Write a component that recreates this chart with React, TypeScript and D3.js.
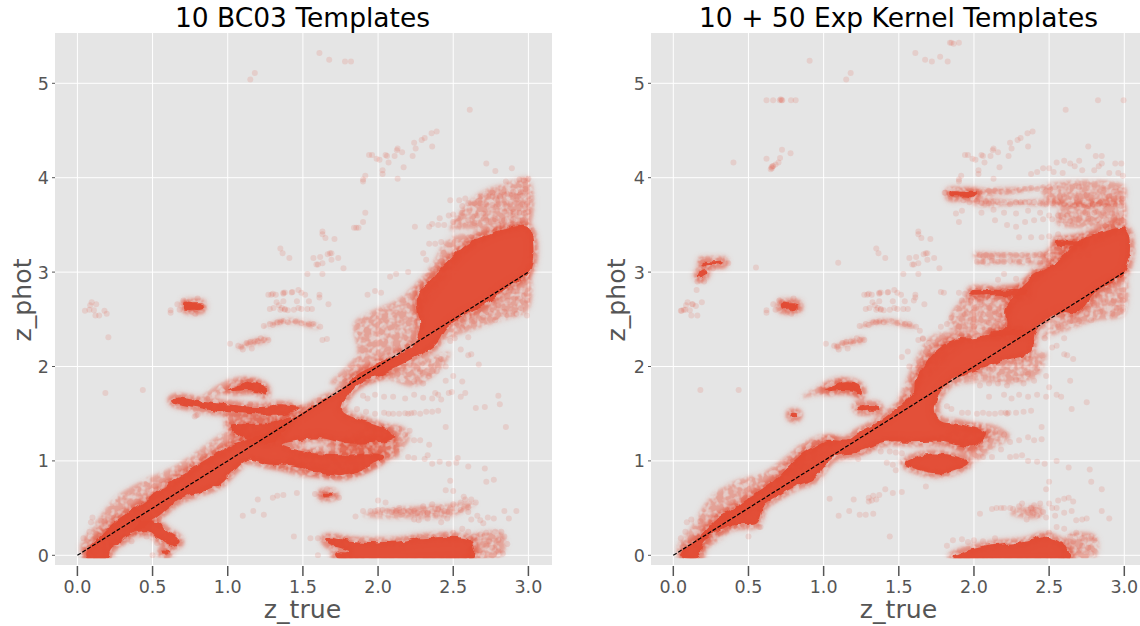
// App.tsx
import * as d3 from "d3";

type Pt = [number, number];

const xTicks = [0, 0.5, 1, 1.5, 2, 2.5, 3];
const yTicks = [0, 1, 2, 3, 4, 5];
const titles = ["10 BC03 Templates", "10 + 50 Exp Kernel Templates"];

// outliers seen in both panels
const sharedPoints: Pt[] = [
  [.05,2.59],[.08,2.6],[.11,2.595],[.085,2.65],[.095,2.68],[.125,2.66],[.12,2.54],[.62,2.595],[.62,2.57],[.665,2.66],[.68,2.6],[.705,2.7],[.725,2.68],[.8,2.72],[.76,2.63],[.77,2.62],[.8,2.63],[.815,2.63],[.825,2.63],[.76,2.58],[.785,2.56],[.74,2.66],[.765,2.67],[.75,2.62],[.78,2.65],[.79,2.61],[.73,2.64],
  [.435,1.75],[1.15,5.04],[1.18,5.11],[1.61,5.32],[1.675,5.25],[2.61,4.72],
  [2.39,4.49],[2.356,4.47],[2.31,4.42],[2.29,4.4],[2.24,4.37],[2.25,4.31],[2.36,4.33],[2.13,4.31],[2.125,4.29],[2.16,4.27],[2.11,4.23],[2.05,4.24],[2.06,4.23],[2.01,4.19],[1.99,4.2],[1.96,4.24],[1.94,4.24],[2.07,4.16],[2.23,4.23],[2.17,4.11],[2.03,4.08],[2.03,4.04],[2.13,3.99],[1.9,3.98],[1.9,3.96],[1.915,4.02],
  [1.63,3.43],[1.63,3.4],[1.65,3.36],[1.71,3.35],[1.68,3.2],[1.665,3.19],[1.69,3.2],[1.735,3.15],[1.69,3.13],[1.63,3.095],[1.6,3.08],[1.59,3.08],[1.57,3.15],[1.615,3.16],[1.77,3.04],[1.63,2.98],[1.53,2.98],[1.35,3.25],[1.365,3.2],[1.41,3.15],[1.61,2.76],[1.61,2.73],[1.67,2.66],
  [1.29,2.76],[1.32,2.76],[1.37,2.78],[1.38,2.785],[1.43,2.79],[1.47,2.81],[1.49,2.78],[1.515,2.76],[1.54,2.69],[1.34,2.65],[1.36,2.62],[1.38,2.6],[1.4,2.595],[1.46,2.69],[1.47,2.62],[1.49,2.61],[1.53,2.61],[1.56,2.61],[1.305,2.62],[1.37,2.69],[1.27,2.76],[1.3,2.77],[1.37,2.77],[1.425,2.785],[1.325,2.68],[1.28,2.61],[1.35,2.6],[1.38,2.61],[1.44,2.6],
  [1.015,2.24],[1.07,2.22],[1.09,2.21],[1.125,2.25],[1.15,2.26],[1.18,2.265],[1.2,2.27],[1.24,2.28],[1.27,2.28],[1.1,2.18],[1.16,2.19],[1.22,2.3],[1.24,2.43],[1.28,2.45],[1.3,2.44],[1.33,2.47],[1.35,2.47],[1.37,2.48],[1.4,2.47],[1.45,2.48],[1.49,2.46],[1.54,2.45],[1.57,2.45],[1.615,2.42],[1.63,2.28],[1.66,2.29],
  [1.2,.59],[1.17,.47],[1.24,.43],[1.3,.61],[1.33,.63],[1.37,.64],[1.46,.66],[1.1,.42],[1.44,.2],
];

const leftPoints: Pt[] = [
  [.18,2.59],[.195,2.56],[.145,2.54],[.206,2.31],[.186,1.72],[1.78,5.23],[1.82,5.23],[1.915,3.63],[1.9,3.53],[1.84,3.47],[1.855,3.47],[1.87,3.47],[2.245,3.48],
  // scatter above the top right wedge
  [2.72,4.15],[2.78,4.07],[2.89,4.1],[2.85,3.96],[2.94,3.98],[2.97,3.97],[3,3.99],[2.76,3.84],[2.81,3.8],[2.9,3.85],[2.95,3.85],[2.98,3.88],[2.93,3.8],[2.86,3.83],
  [2.41,3.57],[2.47,3.6],[2.5,3.61],[2.53,3.57],[2.56,3.7],[2.54,3.76],[2.48,3.76],[2.58,3.78],[2.6,3.73],[2.64,3.73],[2.68,3.73],[2.72,3.72],[2.76,3.71],[2.8,3.72],[2.84,3.72],[2.88,3.72],[2.92,3.73],[2.96,3.72],[2.99,3.72],
  [2.68,3.8],[2.72,3.81],[2.76,3.8],[2.8,3.81],[2.84,3.82],[2.88,3.82],[2.92,3.8],[2.96,3.81],[3,3.8],[2.94,3.63],[2.97,3.63],[3,3.64],[2.84,3.64],[2.88,3.63],[2.9,3.64],
  [2.66,3.6],[2.7,3.62],[2.56,3.63],[2.6,3.55],[2.64,3.52],[2.5,3.53],[2.44,3.5],[2.4,3.5],[2.36,3.51],[2.34,3.48],[2.72,3.55],[2.78,3.56],[2.84,3.55],[2.9,3.56],[2.96,3.55],[2.88,3.5],[2.8,3.5],
  [2.3,3.2],[2.34,3.3],[2.38,3.3],[2.32,3.13],[2.42,3.32],[2.2,3.0],[2.12,2.98],[2.08,2.95],[2.02,2.78],[1.98,2.8],[1.93,2.76],
  // below the diagonal, top right
  [2.9,2.8],[2.93,2.72],[2.97,2.75],[2.99,2.7],[2.95,2.62],[2.86,2.7],[2.8,2.65],[2.84,2.58],[2.92,2.56],[2.99,2.54],[2.75,2.56],[2.7,2.52],[2.78,2.49],[2.64,2.48],[2.56,2.41],[2.6,2.31],[2.51,2.3],[2.48,2.27],[2.55,2.18],[2.62,2.13],[2.6,2.12],[2.67,2.02],
  [2.42,2.08],[2.45,2],[2.5,1.9],[2.45,1.85],[2.39,1.95],[2.34,1.9],[2.28,1.95],[2.3,1.82],[2.24,1.84],[2.56,1.84],[2.58,1.72],[2.49,1.73],[2.38,1.72],[2.36,1.66],[2.4,1.7],[2.3,1.67],[2.42,1.65],[2.47,1.72],[2.55,1.68],[2.8,1.69],[2.81,1.6],[2.71,1.57],[2.65,1.56],[2.85,1.36],
  [1.9,1.69],[1.93,1.66],[1.98,1.7],[2.04,1.68],[2.1,1.68],[2.18,1.66],[2.24,1.7],[1.86,1.55],[1.92,1.52],[1.98,1.5],[2.04,1.51],[2.07,1.5],[2.1,1.5],[2.14,1.5],[2.18,1.505],[2.2,1.5],[2.22,1.505],[2.24,1.51],[2.28,1.5],[2.32,1.52],[2.36,1.52],[2.4,1.53],[2.45,1.36],
  [2.14,1.34],[2.18,1.28],[2.21,1.32],[2.24,1.22],[2.28,1.22],[2.34,1.17],[2.2,1.04],[2.24,1.03],[2.31,1.02],[2.33,1.06],[2.36,.97],[2.41,.99],[2.47,.97],[2.52,.98],[2.53,1.03],[2.6,.94],[2.71,.92],[2.77,.8],[2.72,.78],[2.48,.79],[2.45,.69],
  // the lump at z_phot near 0.45
  [1.9,.47],[1.95,.47],[1.98,.47],[2,.48],[2.03,.48],[2.06,.47],[2.09,.46],[2.1,.48],[2.12,.47],[2.14,.48],[2.15,.46],[2.17,.47],[2.14,.5],[2.2,.47],[2.22,.46],[2.24,.47],[2.26,.45],[2.28,.44],[2.3,.45],[2.3,.52],[2.33,.45],[2.36,.47],[2.36,.54],[2.38,.49],[2.4,.49],[2.42,.51],[2.44,.47],[2.46,.46],[2.38,.42],[2.33,.39],[2.24,.38],[2.27,.37],[2.46,.39],[2.42,.35],[2.5,.54],[2.55,.56],[2.58,.59],[2.6,.51],[2.62,.59],[2.65,.56],[2.55,.48],[2.6,.46],[2.66,.42],[2.7,.34],[2.73,.4],[2.77,.39],[2.62,.38],[2.68,.37],[2.84,.47],[2.87,.39],[2.92,.47],[1.85,.41],[2,.58],[2.05,.56],[2.5,.68],[2.57,.62],
  // the small clump at z_phot near 0.65
  [1.58,.65],[1.62,.65],[1.64,.64],[1.65,.64],[1.66,.64],[1.67,.64],[1.68,.64],[1.7,.63],[1.74,.61],[1.66,.7],
  // bottom band fade
  [2.64,.2],[2.68,.22],[2.72,.24],[2.78,.25],[2.82,.25],[2.84,.2],[2.86,.12],[2.8,.16],[2.76,.08],[2.72,.1],[2.8,.04],[2.7,.02],[2.83,.02],[2.6,.25],[2.56,.28],[2.5,.24],[2.45,.22],[2.66,.16],[2.74,.15],[1.6,.18],[1.55,.18],[1.6,.0],[1.67,.2],
  // small bits
  [.58,.02],[.6,.03],[.585,.04],[.5,-.0],[.53,.13],[.36,.15],[.18,.36],[.09,.35],[.1,.4],[.08,.25],[.04,.18],[.2,.19],[.5,.22],[.46,.2],[1.15,1.6],[.8,1.49],[.79,1.48],[.78,1.47],
];

const rightPoints: Pt[] = [
  [.907,5.24],[.62,4.82],[.664,4.82],[.708,4.82],[.72,4.82],[.725,4.82],[.715,4.83],[.783,4.82],[.814,4.82],[.4,4.16],[.62,4.2],[.723,4.295],[.78,4.26],[.71,4.21],[.7,4.16],[.68,4.14],[.665,4.125],[.653,4.11],[.648,4.09],[.656,4.1],[.66,4.12],[.55,3.05],[1.097,3.1],[.365,3.095],[.265,3.04],
  [.205,2.9],[.16,2.9],[.18,2.91],[.155,2.81],[.19,2.68],[.15,2.64],[.055,2.59],[.16,2.54],[.13,2.66],[.07,2.6],
  [1.84,5.43],[1.85,5.43],[1.865,5.42],[1.9,5.43],[1.72,5.23],[1.775,5.28],[1.825,5.23],[2.825,4.82],[2.995,4.82],[.18,1.75],
  // upper scatter of the kernel run
  [2.76,4.33],[2.81,4.23],[2.85,4.23],[2.85,4.15],[2.83,4.12],[2.94,4.15],[2.98,4.15],[2.55,4.16],[2.6,4.18],[2.64,4.15],[2.7,4.18],[2.67,4.12],[2.5,4.1],[2.53,4.06],[2.46,4.1],[2.38,4.04],[2.42,4.06],[2.59,4.05],[2.72,4.08],[2.8,4.08],[2.9,4.05],[2.96,4.05],[2.99,4.02],
  [1.805,3.84],[1.81,3.84],[1.84,3.83],[1.86,3.83],[1.88,3.825],[1.9,3.83],[1.92,3.82],[1.94,3.82],[1.96,3.81],[1.98,3.82],[2.02,3.83],[2.06,3.85],[2.1,3.86],[2.14,3.86],[2.18,3.85],[2.22,3.85],[2.26,3.85],[2.3,3.87],[2.34,3.88],[2.38,3.89],[2.42,3.88],[2.46,3.9],[2.5,3.9],[2.54,3.9],[2.7,3.9],[2.86,3.89],[2.93,3.85],[2.97,3.87],
  [1.93,3.76],[1.97,3.74],[2.02,3.75],[2.05,3.73],[2.08,3.75],[2.1,3.73],[2.13,3.75],[2.16,3.74],[2.2,3.74],[2.24,3.72],[2.28,3.74],[2.31,3.74],[2.34,3.74],[2.37,3.74],[2.4,3.74],[2.44,3.73],[2.48,3.72],[2.52,3.73],[2.56,3.74],[2.6,3.72],[2.64,3.72],[2.67,3.71],[2.7,3.72],[2.73,3.71],[2.76,3.7],[2.79,3.72],[2.83,3.72],[2.87,3.72],[2.9,3.73],[2.94,3.72],[2.98,3.7],
  [2.6,3.8],[2.68,3.79],[2.75,3.82],[2.82,3.8],[2.9,3.8],[2.96,3.8],[2.99,3.78],[2.05,3.63],[2.13,3.66],[2.2,3.63],[2.28,3.62],[2.36,3.65],[2.44,3.63],[2.5,3.6],[2.56,3.6],[2.62,3.6],[2.68,3.6],[2.74,3.63],[2.8,3.63],[2.86,3.63],[2.92,3.62],[2.98,3.62],
  [1.92,3.65],[1.9,3.53],[1.88,3.62],[2.14,3.55],[2.22,3.5],[2.28,3.48],[2.34,3.53],[2.4,3.55],[2.46,3.56],[2.52,3.56],[2.58,3.55],[2.64,3.54],[2.7,3.55],[2.76,3.56],[2.82,3.55],[2.88,3.55],[2.94,3.55],[2.3,3.37],[2.38,3.37],[2.45,3.37],[2.5,3.38],[2.56,3.4],
  [2.04,3.18],[2.08,3.18],[2.12,3.17],[2.16,3.18],[2.2,3.18],[2.24,3.18],[2.28,3.18],[2.32,3.18],[2.36,3.17],[2.4,3.18],[2.44,3.19],[2.48,3.18],[2.52,3.18],[2.56,3.18],[2.6,3.18],[2.64,3.17],[2.7,3.17],[2.76,3.18],[2.02,3.11],[2.06,3.11],[2.12,3.12],[2.16,3.11],[2.2,3.11],[2.24,3.12],[2.3,3.11],[2.36,3.12],[2.44,3.1],[2.5,3.12],
  [1.78,2.79],[1.8,2.78],[1.9,2.78],[1.94,2.77],[1.98,2.78],[2.0,2.77],[1.92,2.7],[1.98,2.7],[2.04,2.68],[2.0,2.62],[2.1,2.62],[2.14,2.58],[2.06,2.55],[2.2,2.98],[2.16,2.92],[2.28,2.93],[1.6,2.7],
  // below the diagonal, top right
  [2.9,2.8],[2.93,2.7],[2.97,2.75],[2.99,2.7],[2.95,2.62],[2.86,2.7],[2.8,2.65],[2.84,2.58],[2.92,2.56],[2.99,2.6],[2.75,2.56],[2.7,2.48],[2.78,2.49],[2.64,2.48],[2.56,2.42],[2.6,2.3],[2.55,2.22],[2.62,2.12],[2.6,2.13],[2.66,2.08],[2.47,2.3],[2.52,2.2],
  [1.52,2.1],[1.57,2],[1.56,2.16],[1.64,2.38],[1.66,2.3],[1.7,2.25],[1.78,2.42],[1.82,2.45],[1.9,2.42],[2,2.42],[2.1,2.46],[2,2.5],[1.85,2.52],[1.94,2.55],[2.16,2.5],[2.2,2.44],
  [2.36,1.92],[2.42,1.98],[2.48,1.9],[2.4,1.85],[2.33,1.82],[2.28,1.86],[2.22,1.8],[2.16,1.82],[2.1,1.82],[2.04,1.8],[2.3,1.7],[2.36,1.68],[2.42,1.7],[2.48,1.68],[2.55,1.7],[2.58,1.68],[2.64,1.85],[2.5,1.78],[2.75,1.62],[2.65,1.55],[2.1,1.68],[2.2,1.7],[2.25,1.66],
  [1.82,1.58],[1.85,1.55],[1.92,1.51],[1.96,1.51],[2.02,1.5],[2.06,1.51],[2.1,1.5],[2.14,1.5],[2.18,1.51],[2.21,1.51],[2.23,1.51],[2.22,1.5],[2.28,1.51],[2.33,1.52],[2.38,1.53],[2.45,1.36],
  [2.14,1.3],[2.2,1.28],[2.24,1.2],[2.3,1.22],[2.36,1.25],[2.4,1.22],[2.45,1.23],[2.18,1.12],[2.24,1.04],[2.28,1.05],[2.32,1.06],[2.36,1],[2.42,.99],[2.47,.97],[2.55,1],[2.63,.93],[2.77,.91],[2.5,.78],[2.48,.7],[2.78,.78],[2.85,.7],[2.12,1.04],[2.06,1.04],
  [1.34,1.15],[1.38,1.1],[1.44,1.1],[1.48,1.09],[1.52,1.08],[1.42,.98],[1.46,.96],[1.48,.9],[1.3,1.1],[1.25,1.09],[1.23,1.02],[1.04,.6],[1.3,.57],[1.32,.58],[1.35,.59],[1.41,.7],[1.28,.43],[1.33,.44],[1.68,.73],[1.52,.67],
  // lump at z_phot near 0.45
  [2.12,.49],[2.15,.5],[2.18,.5],[2.2,.5],[2.24,.5],[2.26,.49],[2.3,.52],[2.32,.55],[2.36,.48],[2.38,.5],[2.39,.45],[2.4,.53],[2.41,.48],[2.42,.42],[2.44,.55],[2.46,.46],[2.48,.4],[2.35,.38],[2.04,.44],[2.5,.55],[2.52,.5],[2.54,.42],[2.56,.58],[2.6,.6],[2.63,.61],[2.66,.57],[2.6,.45],[2.65,.47],[2.68,.37],[2.72,.38],[2.75,.39],[2.85,.47],[2.9,.39],[2.55,.5],
  // bottom band fade
  [2.64,.2],[2.68,.24],[2.72,.18],[2.78,.2],[2.8,.16],[2.76,.08],[2.72,.1],[2.78,.02],[2.7,.05],[2.66,.15],[2.6,.28],[2.55,.3],[2.5,.24],[2.45,.21],[1.82,.1],[1.86,.16],[1.92,.17],[1.96,.14],[2,.16],[2.06,.15],[2.14,.18],
  [.5,.2],[.12,.38],[.09,.35],[.08,.25],[.05,.18],[.18,.36],[.58,.3],[.57,.3],
];

const leftSolid: Pt[][] = [
  // main diagonal with the two lobes and the wedge
  [[.07,-.03],[.06,.03],[.15,.2],[.26,.37],[.42,.54],[.59,.74],[.77,.93],[.9,1.06],[1.04,1.18],[1.26,1.29],[1.4,1.42],[1.5,1.52],[1.6,1.62],[1.73,1.72],[1.85,1.9],[1.99,2.02],[2.12,2.12],[2.24,2.25],[2.28,2.45],[2.26,2.62],[2.27,2.78],[2.35,2.92],[2.47,3.12],[2.61,3.31],[2.83,3.45],[3,3.47],[3.01,3.02],[2.83,2.81],[2.7,2.64],[2.61,2.57],[2.46,2.42],[2.37,2.21],[2.21,2.07],[2.04,1.93],[1.9,1.84],[1.81,1.72],[1.76,1.54],[1.95,1.4],[2.06,1.33],[2.1,1.24],[1.95,1.19],[1.77,1.19],[1.62,1.24],[1.48,1.22],[1.36,1.17],[1.57,1.08],[1.75,1.06],[1.95,1.08],[2.04,1.05],[1.9,.9],[1.75,.84],[1.62,.87],[1.44,.94],[1.28,.96],[1.13,1.01],[1.04,.9],[.95,.76],[.82,.67],[.68,.59],[.58,.47],[.5,.37],[.37,.23],[.22,.06],[.2,-.03]],
  // branch toward z_true 0.65
  [[.4,.36],[.47,.37],[.53,.34],[.6,.25],[.66,.19],[.68,.14],[.65,.105],[.6,.12],[.54,.18],[.48,.25],[.38,.26]],
  // band ending in the tip at 0.63, 1.65
  [[.63,1.65],[.66,1.67],[.72,1.66],[.82,1.63],[.93,1.61],[1.08,1.585],[1.215,1.57],[1.35,1.59],[1.48,1.56],[1.38,1.5],[1.26,1.49],[1.12,1.5],[.99,1.52],[.88,1.54],[.78,1.57],[.68,1.6],[.64,1.62]],
  // below the lens
  [[1.02,1.38],[1.1,1.39],[1.3,1.41],[1.42,1.47],[1.3,1.2],[1.1,1.24]],
  // arc
  [[1,1.75],[1.06,1.79],[1.13,1.83],[1.2,1.82],[1.25,1.77],[1.25,1.7],[1.2,1.74],[1.12,1.75],[1.05,1.74]],
  // bottom band
  [[1.65,.18],[1.86,.145],[2.13,.145],[2.28,.18],[2.61,.16],[2.64,0],[2.63,-.03],[1.73,-.03],[1.715,.02],[1.81,.04],[1.66,.13]],
  [[.72,2.61],[.77,2.6],[.83,2.61],[.83,2.66],[.77,2.67],[.72,2.67]],
  [[1.63,.62],[1.67,.62],[1.71,.63],[1.7,.66],[1.66,.66],[1.63,.66]],
  [[.57,.01],[.6,.01],[.61,.04],[.58,.05],[.56,.04]],
];

const leftHalo: Pt[][] = [
  [[.05,-.03],[.02,.1],[.1,.3],[.26,.62],[.42,.78],[.59,.9],[.75,1.05],[.86,1.18],[.99,1.3],[1.1,1.25],[.9,.9],[.5,.4],[.2,.05]],
  [[.98,1.48],[1,1.3],[1.3,1.2],[1.4,1.4],[1.3,1.46]],
  [[.82,1.66],[.9,1.77],[1.02,1.87],[1.13,1.89],[1.24,1.8],[1.27,1.68],[1.2,1.7],[1.12,1.74],[1,1.72],[.9,1.68]],
  [[2.01,1.38],[2.17,1.36],[2.21,1.24],[2.13,1.08],[2.04,.98],[1.9,.87],[1.73,.82],[1.44,.85],[1.3,.95],[1.7,1.2]],
  [[1.72,1.16],[2.1,1.26],[2.14,1.05],[1.95,1.05],[1.75,1.06]],
  [[1.85,1.8],[2.05,1.93],[2.35,2.1],[2.48,2.15],[2.42,1.98],[2.24,1.79],[2.06,1.86],[1.88,1.79]],
  [[1.68,1.82],[1.79,2],[1.86,2.14],[1.84,2.46],[1.95,2.58],[2.14,2.72],[2.35,3.06],[2.46,3.34],[2.61,3.42],[2.83,3.46],[2.6,3.2],[2.3,2.6],[2.2,2.2],[1.9,1.9]],
  [[2.48,3.45],[2.6,3.46],[3,3.48],[3,4],[2.85,3.94],[2.7,3.86],[2.6,3.74]],
  [[2.82,2.81],[3,3],[3,2.6],[2.8,2.48],[2.56,2.35],[2.45,2.3],[2.6,2.56]],
  [[2.6,.16],[2.64,.23],[2.82,.24],[2.85,.1],[2.8,-.03],[2.6,-.03]],
  [[1.9,.42],[2.1,.5],[2.4,.53],[2.65,.55],[2.5,.42],[2.3,.39]],
  // the two chains
  [[1.06,2.2],[1.15,2.28],[1.27,2.31],[1.27,2.26],[1.15,2.22],[1.07,2.19]],
  [[1.24,2.41],[1.35,2.5],[1.46,2.5],[1.6,2.44],[1.6,2.4],[1.45,2.45],[1.33,2.44]],
];

const rightSolid: Pt[][] = [
  [[.07,-.03],[.06,.03],[.14,.15],[.18,.21],[.29,.39],[.4,.5],[.53,.64],[.66,.78],[.77,.95],[.86,1.08],[.93,1.15],[1.02,1.22],[1.15,1.22],[1.22,1.29],[1.37,1.42],[1.5,1.58],[1.595,1.72],[1.61,1.86],[1.66,2],[1.75,2.18],[1.815,2.25],[1.9,2.3],[1.99,2.3],[2.13,2.35],[2.21,2.42],[2.21,2.6],[2.28,2.78],[2.39,2.95],[2.57,3.13],[2.68,3.31],[2.83,3.41],[3.01,3.45],[3.01,3.02],[2.83,2.81],[2.68,2.57],[2.59,2.57],[2.41,2.39],[2.37,2.14],[2.21,2.07],[2.02,1.96],[1.88,1.88],[1.79,1.75],[1.74,1.58],[1.77,1.43],[1.93,1.38],[2.08,1.29],[2,1.15],[1.79,1.2],[1.62,1.2],[1.4,1.2],[1.24,1.1],[1.19,1.08],[1.06,1.03],[.93,.8],[.84,.75],[.71,.64],[.6,.52],[.55,.34],[.44,.32],[.35,.3],[.2,.13],[.17,-.03]],
  [[1.54,.975],[1.64,1.05],[1.82,1.06],[1.96,.975],[1.79,.87],[1.64,.9]],
  [[1.86,-.03],[1.86,-.01],[2.06,.09],[2.35,.145],[2.48,.2],[2.61,.09],[2.635,-.03]],
  [[1,1.75],[1.06,1.79],[1.13,1.83],[1.2,1.82],[1.25,1.77],[1.25,1.7],[1.2,1.74],[1.12,1.75],[1.05,1.74]],
  [[1.22,1.58],[1.28,1.59],[1.36,1.58],[1.37,1.54],[1.3,1.53],[1.24,1.53]],
  [[.785,1.46],[.82,1.46],[.83,1.49],[.81,1.51],[.78,1.5]],
  [[.19,3.085],[.26,3.085],[.33,3.085],[.335,3.115],[.26,3.115],[.19,3.115]],
  [[.165,2.95],[.2,2.95],[.22,3],[.21,3.03],[.18,3.01]],
  [[.72,2.61],[.77,2.6],[.83,2.61],[.83,2.66],[.77,2.67],[.72,2.67]],
  [[1.84,3.8],[1.92,3.8],[2,3.8],[2.02,3.84],[1.92,3.85],[1.84,3.85]],
  [[1.98,2.76],[2.14,2.76],[2.35,2.76],[2.35,2.81],[2.14,2.81],[1.98,2.8]],
  [[2.12,2.32],[2.22,2.32],[2.34,2.33],[2.34,2.38],[2.22,2.38],[2.12,2.37]],
  [[2.55,3.28],[2.64,3.28],[2.72,3.28],[2.72,3.33],[2.64,3.33],[2.55,3.33]],
];

const rightHalo: Pt[][] = [
  [[.05,-.03],[.03,.1],[.1,.25],[.25,.62],[.4,.78],[.6,.88],[.75,1.05],[.85,1.18],[1,1.28],[1.1,1.25],[.9,.9],[.5,.4],[.2,.05]],
  [[.84,1.66],[.93,1.76],[1.1,1.89],[1.2,1.82],[1.27,1.66],[1.12,1.72],[.9,1.68]],
  [[2,1.4],[2.17,1.36],[2.24,1.26],[2.1,1.1],[2,1],[1.8,1.2],[1.6,1.18],[1.8,1.3]],
  [[1.5,1.6],[1.56,1.9],[1.7,2.3],[1.8,2.36],[2,2.32],[1.9,2.2],[1.65,1.8]],
  [[1.84,1.8],[2.05,1.92],[2.35,2.1],[2.48,2.15],[2.42,1.9],[2.24,1.82],[2.06,1.84]],
  [[1.86,2.6],[2.04,2.82],[2.28,2.84],[2.42,3.1],[2.55,3.34],[2.8,3.46],[3,3.6],[3,3.45],[2.6,3.15],[2.3,2.7],[2.2,2.44],[2,2.35],[1.84,2.4]],
  [[2.56,3.5],[3,3.55],[3,3.75],[2.8,3.78],[2.6,3.72],[2.55,3.6]],
  [[2.45,3.9],[3,3.92],[3,3.75],[2.5,3.75]],
  [[2,3.71],[2.3,3.71],[2.6,3.71],[2.6,3.76],[2.3,3.76],[2,3.77]],
  [[1.84,3.8],[2.3,3.84],[2.45,3.9],[2.3,3.9],[1.9,3.86]],
  [[2,3.16],[2.3,3.16],[2.6,3.16],[2.6,3.2],[2.3,3.2],[2,3.2]],
  [[2.02,3.09],[2.2,3.09],[2.4,3.09],[2.4,3.13],[2.2,3.13],[2.02,3.13]],
  [[2.82,2.81],[3,3],[3,2.55],[2.8,2.48],[2.56,2.35],[2.45,2.3],[2.6,2.56]],
  [[2.6,.16],[2.64,.23],[2.8,.22],[2.83,.1],[2.8,-.03],[2.6,-.03]],
  [[2.24,.44],[2.35,.52],[2.46,.5],[2.44,.4],[2.32,.4]],
  [[1.06,2.2],[1.15,2.28],[1.27,2.31],[1.27,2.26],[1.15,2.22],[1.07,2.19]],
  [[1.24,2.41],[1.35,2.5],[1.46,2.5],[1.6,2.44],[1.6,2.4],[1.45,2.45],[1.33,2.44]],
];

const WIDTH = 1140;
const HEIGHT = 626;
const panels = [
  { title: titles[0], left: 55, right: 552, x0: 77.4, points: leftPoints, solid: leftSolid, halo: leftHalo, yLabelX: 31 },
  { title: titles[1], left: 651, right: 1148, x0: 673.3, points: rightPoints, solid: rightSolid, halo: rightHalo, yLabelX: 625 },
];
const top = 33;
const bottom = 565;
const red = "#E24A33";
const grey = "#555555";

const outline = d3.line().curve(d3.curveCatmullRomClosed.alpha(0.5));

function Panel({ title, left, right, x0, points, solid, halo, yLabelX, id }: any) {
  const x = d3.scaleLinear().domain([0, 3]).range([x0, x0 + 451]);
  const y = d3.scaleLinear().domain([0, 5]).range([555.3, 83.3]);
  const dots: Pt[] = [...sharedPoints, ...points];
  const toPath = (poly: Pt[]) => outline(poly.map((p) => [x(p[0]), y(p[1])] as Pt)) ?? "";
  const midX = (left + right) / 2;

  return (
    <g>
      <rect x={left} y={top} width={right - left} height={bottom - top} fill="#E5E5E5" />
      <clipPath id={`clip${id}`}>
        <rect x={left} y={top} width={right - left} height={y(-0.03) - top} />
      </clipPath>

      {xTicks.map((t) => (
        <g key={t}>
          <line x1={x(t)} x2={x(t)} y1={top} y2={bottom} stroke="#fff" strokeWidth={1} />
          <line x1={x(t)} x2={x(t)} y1={bottom + 1} y2={bottom + 11} stroke={grey} strokeWidth={1.5} />
          <text x={x(t)} y={593} textAnchor="middle" fontSize={17.5} fill={grey}>
            {t.toFixed(1)}
          </text>
        </g>
      ))}
      {yTicks.map((t) => (
        <g key={t}>
          <line x1={left} x2={right} y1={y(t)} y2={y(t)} stroke="#fff" strokeWidth={1} />
          <line x1={left - 3} x2={left} y1={y(t)} y2={y(t)} stroke={grey} strokeWidth={1} />
          <text x={left - 6} y={y(t) + 6.5} textAnchor="end" fontSize={17.5} fill={grey}>
            {t}
          </text>
        </g>
      ))}

      <g clipPath={`url(#clip${id})`}>
        {/* soft wash under the speckle, dense parts fade out slowly */}
        <g filter="url(#wash)">
          {halo.map((poly: Pt[], i: number) => (
            <path key={i} d={toPath(poly)} fill={red} fillOpacity={0.16} />
          ))}
          {solid.map((poly: Pt[], i: number) => (
            <path key={i} d={toPath(poly)} fill="none" stroke={red} strokeOpacity={0.35} strokeWidth={8} />
          ))}
        </g>
        <g filter="url(#speck)">
          {halo.map((poly: Pt[], i: number) => (
            <path key={i} d={toPath(poly)} fill={red} fillOpacity={0.32} />
          ))}
          {solid.map((poly: Pt[], i: number) => (
            <path key={i} d={toPath(poly)} fill="none" stroke={red} strokeOpacity={0.4} strokeWidth={9} />
          ))}
        </g>
        {dots.map((d, i) => (
          <circle key={i} cx={x(d[0])} cy={y(d[1])} r={3} fill={red} fillOpacity={0.14} />
        ))}
        <g filter="url(#rough)">
          {solid.map((poly: Pt[], i: number) => (
            <path key={i} d={toPath(poly)} fill={red} fillOpacity={0.97} />
          ))}
        </g>
      </g>

      <line x1={x(0)} y1={y(0)} x2={x(3)} y2={y(3)} stroke="#000" strokeWidth={1.2} strokeDasharray="4 1.8" />

      <text x={midX - 1} y={27} textAnchor="middle" fontSize={26.5} fill="#000">
        {title}
      </text>
      <text x={midX - 1} y={618} textAnchor="middle" fontSize={25.2} fill={grey}>
        z_true
      </text>
      <text transform={`translate(${yLabelX},300) rotate(-90)`} textAnchor="middle" fontSize={25.2} fill={grey}>
        z_phot
      </text>
    </g>
  );
}

export default function App() {
  return (
    <svg
      width={WIDTH}
      height={HEIGHT}
      style={{ position: "absolute", left: 0, top: 0, background: "#fff", fontFamily: "'DejaVu Sans'" }}
    >
      <defs>
        <filter id="wash" filterUnits="userSpaceOnUse" x={0} y={0} width={WIDTH} height={HEIGHT} colorInterpolationFilters="sRGB">
          <feGaussianBlur in="SourceGraphic" stdDeviation={3} />
        </filter>
        <filter id="speck" filterUnits="userSpaceOnUse" x={0} y={0} width={WIDTH} height={HEIGHT} colorInterpolationFilters="sRGB">
          <feGaussianBlur in="SourceGraphic" stdDeviation={1.5} result="blurred" />
          <feTurbulence type="fractalNoise" baseFrequency={0.17} numOctaves={2} seed={4} result="noise" />
          <feColorMatrix in="noise" type="matrix" values="0 0 0 0 0  0 0 0 0 0  0 0 0 0 0  4 0 0 0 -1.25" result="mask" />
          <feComposite in="blurred" in2="mask" operator="in" />
        </filter>
        <filter id="rough" filterUnits="userSpaceOnUse" x={0} y={0} width={WIDTH} height={HEIGHT} colorInterpolationFilters="sRGB">
          <feTurbulence type="fractalNoise" baseFrequency={0.1} numOctaves={2} seed={9} result="noise" />
          <feDisplacementMap in="SourceGraphic" in2="noise" scale={6} xChannelSelector="R" yChannelSelector="G" result="moved" />
          <feGaussianBlur in="moved" stdDeviation={0.6} />
        </filter>
      </defs>
      {panels.map((p, i) => (
        <Panel key={i} id={i} {...p} />
      ))}
    </svg>
  );
}
